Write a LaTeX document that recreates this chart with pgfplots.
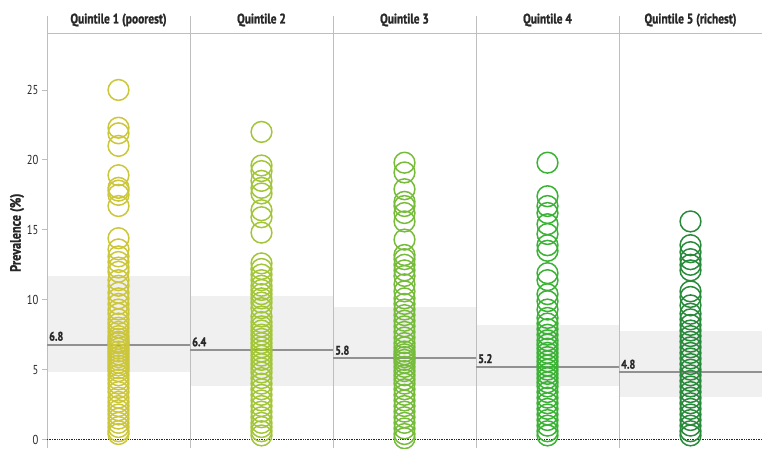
\documentclass[border=0pt]{standalone}
\usepackage{fontspec}
\setmainfont{PT Sans}[FakeStretch=0.82, BoldFeatures={FakeBold=1.2}]
\usepackage{pgfplots}
\pgfplotsset{compat=1.18}

\definecolor{qa}{RGB}{204,198,58}
\definecolor{qb}{RGB}{162,198,56}
\definecolor{qc}{RGB}{118,188,58}
\definecolor{qd}{RGB}{58,178,52}
\definecolor{qe}{RGB}{42,138,60}
\definecolor{band}{RGB}{240,240,240}
\definecolor{divline}{RGB}{190,190,190}
\definecolor{medline}{RGB}{145,145,145}
\definecolor{txt}{RGB}{40,40,40}

\begin{document}
\begin{tikzpicture}
\begin{axis}[
    scale only axis,
    width=715bp, height=414bp,
    xmin=0.5, xmax=5.5,
    ymin=-0.6, ymax=29,
    clip=false,
    axis line style={draw=none},
    xtick=\empty,
    ytick={0,5,10,15,20,25},
    tick align=outside,
    major tick length=5bp,
    tick style={divline, line width=0.8bp},
    /pgf/number format/assume math mode=true,
    yticklabel style={font=\fontsize{13}{15}\selectfont, text=txt},
]

% interquartile bands
\addplot[fill=band, draw=none] coordinates {(0.5,4.86) (1.5,4.86) (1.5,11.71) (0.5,11.71)} -- cycle;
\addplot[fill=band, draw=none] coordinates {(1.5,3.81) (2.5,3.81) (2.5,10.29) (1.5,10.29)} -- cycle;
\addplot[fill=band, draw=none] coordinates {(2.5,3.81) (3.5,3.81) (3.5,9.50) (2.5,9.50)} -- cycle;
\addplot[fill=band, draw=none] coordinates {(3.5,3.81) (4.5,3.81) (4.5,8.21) (3.5,8.21)} -- cycle;
\addplot[fill=band, draw=none] coordinates {(4.5,3.02) (5.5,3.02) (5.5,7.79) (4.5,7.79)} -- cycle;

% dividers and header line
\draw[divline, line width=1bp] (axis cs:0.5,-0.6) -- (axis cs:0.5,30.3);
\draw[divline, line width=1bp] (axis cs:1.5,-0.6) -- (axis cs:1.5,30.3);
\draw[divline, line width=1bp] (axis cs:2.5,-0.6) -- (axis cs:2.5,30.3);
\draw[divline, line width=1bp] (axis cs:3.5,-0.6) -- (axis cs:3.5,30.3);
\draw[divline, line width=1bp] (axis cs:4.5,-0.6) -- (axis cs:4.5,30.3);
\draw[divline, line width=1bp] (axis cs:0.5,29) -- (axis cs:5.5,29);
\draw[txt, densely dotted, line width=0.7bp] (axis cs:0.5,0) -- (axis cs:5.5,0);

% points
\addplot[only marks, mark=o, mark size=10.4bp, line width=1.5bp, color=qa] coordinates {
(1,25.0)(1,22.3)(1,21.9)(1,21.0)(1,18.9)(1,18.0)(1,17.8)(1,17.5)(1,16.7)(1,14.4)
(1,13.6)(1,13.1)(1,12.7)(1,12.3)(1,12.0)(1,11.4)(1,11.0)(1,10.5)(1,10.1)(1,9.7)
(1,9.3)(1,9.0)(1,8.6)(1,8.3)(1,8.0)(1,7.7)(1,7.4)(1,7.2)(1,7.0)(1,6.9)
(1,6.7)(1,6.5)(1,6.3)(1,6.1)(1,5.9)(1,5.7)(1,5.5)(1,5.3)(1,5.1)(1,4.9)
(1,4.6)(1,4.3)(1,4.0)(1,3.7)(1,3.4)(1,3.0)(1,2.7)(1,2.4)(1,2.1)(1,1.8)
(1,1.5)(1,1.2)(1,0.9)(1,0.6)(1,0.4)
};
\addplot[only marks, mark=o, mark size=10.4bp, line width=1.5bp, color=qb] coordinates {
(2,22.0)(2,19.6)(2,19.2)(2,18.5)(2,18.0)(2,17.6)(2,16.4)(2,15.9)(2,14.8)(2,12.6)
(2,12.2)(2,11.8)(2,11.4)(2,11.0)(2,10.7)(2,10.4)(2,10.1)(2,9.8)(2,9.4)(2,8.8)
(2,8.4)(2,8.1)(2,7.8)(2,7.5)(2,7.2)(2,6.9)(2,6.6)(2,6.3)(2,6.0)(2,5.7)
(2,5.4)(2,5.1)(2,4.8)(2,4.4)(2,4.0)(2,3.6)(2,3.2)(2,2.8)(2,2.4)(2,2.0)
(2,1.6)(2,1.2)(2,0.9)(2,0.6)(2,0.3)
};
\addplot[only marks, mark=o, mark size=10.4bp, line width=1.5bp, color=qc] coordinates {
(3,19.8)(3,19.1)(3,17.9)(3,17.0)(3,16.7)(3,16.2)(3,15.6)(3,14.3)(3,13.2)(3,12.9)
(3,12.5)(3,12.1)(3,11.7)(3,11.1)(3,10.6)(3,10.1)(3,9.7)(3,9.3)(3,8.9)(3,8.5)
(3,8.1)(3,7.7)(3,7.3)(3,6.9)(3,6.6)(3,6.3)(3,6.1)(3,5.9)(3,5.7)(3,5.5)
(3,5.2)(3,4.9)(3,4.6)(3,4.3)(3,4.0)(3,3.6)(3,3.2)(3,2.8)(3,2.4)(3,2.0)
(3,1.6)(3,1.2)(3,0.8)(3,0.4)(3,0.1)
};
\addplot[only marks, mark=o, mark size=10.4bp, line width=1.5bp, color=qd] coordinates {
(4,19.8)(4,17.4)(4,16.7)(4,16.2)(4,15.4)(4,14.7)(4,13.9)(4,13.5)(4,11.9)(4,11.4)
(4,10.4)(4,9.9)(4,9.3)(4,8.7)(4,8.3)(4,7.9)(4,7.5)(4,7.1)(4,6.8)(4,6.5)
(4,6.2)(4,5.9)(4,5.6)(4,5.3)(4,5.0)(4,4.7)(4,4.4)(4,4.1)(4,3.8)(4,3.4)
(4,3.0)(4,2.6)(4,2.2)(4,1.8)(4,1.4)(4,1.0)(4,0.6)(4,0.3)
};
\addplot[only marks, mark=o, mark size=10.4bp, line width=1.5bp, color=qe] coordinates {
(5,15.6)(5,13.9)(5,13.4)(5,12.9)(5,12.5)(5,12.1)(5,10.6)(5,10.2)(5,9.6)(5,9.0)
(5,8.6)(5,8.2)(5,7.8)(5,7.4)(5,7.0)(5,6.6)(5,6.2)(5,5.8)(5,5.4)(5,5.0)
(5,4.6)(5,4.2)(5,3.8)(5,3.4)(5,3.0)(5,2.6)(5,2.2)(5,1.8)(5,1.4)(5,1.0)
(5,0.6)(5,0.3)
};

% medians
\addplot[medline, line width=2bp] coordinates {(0.5,6.8) (1.5,6.8)};
\addplot[medline, line width=2bp] coordinates {(1.5,6.4) (2.5,6.4)};
\addplot[medline, line width=2bp] coordinates {(2.5,5.8) (3.5,5.8)};
\addplot[medline, line width=2bp] coordinates {(3.5,5.2) (4.5,5.2)};
\addplot[medline, line width=2bp] coordinates {(4.5,4.8) (5.5,4.8)};

\begin{scope}[every node/.style={anchor=south west, inner sep=0pt, xshift=2bp, yshift=3.5bp, text=txt, font=\fontsize{12.5}{14}\selectfont\bfseries}]
\node at (axis cs:0.5,6.8) {6.8};
\node at (axis cs:1.5,6.4) {6.4};
\node at (axis cs:2.5,5.8) {5.8};
\node at (axis cs:3.5,5.2) {5.2};
\node at (axis cs:4.5,4.8) {4.8};
\end{scope}

% headers
\begin{scope}[every node/.style={text=txt, inner sep=0pt, font=\fontsize{14}{16}\selectfont\bfseries}]
\node at (axis cs:1,30.0) {Quintile 1 (poorest)};
\node at (axis cs:2,30.0) {Quintile 2};
\node at (axis cs:3,30.0) {Quintile 3};
\node at (axis cs:4,30.0) {Quintile 4};
\node at (axis cs:5,30.0) {Quintile 5 (richest)};
\end{scope}

\node[rotate=90, text=txt, inner sep=0pt, font=\fontsize{15}{17}\selectfont\bfseries]
  at ([xshift=-30bp]rel axis cs:0,0.52) {Prevalence (\%)};
\end{axis}
\pgfresetboundingbox
\useasboundingbox ([xshift=-47bp]current axis.south west) rectangle ([yshift=34bp]current axis.north east);
\end{tikzpicture}
\end{document}
